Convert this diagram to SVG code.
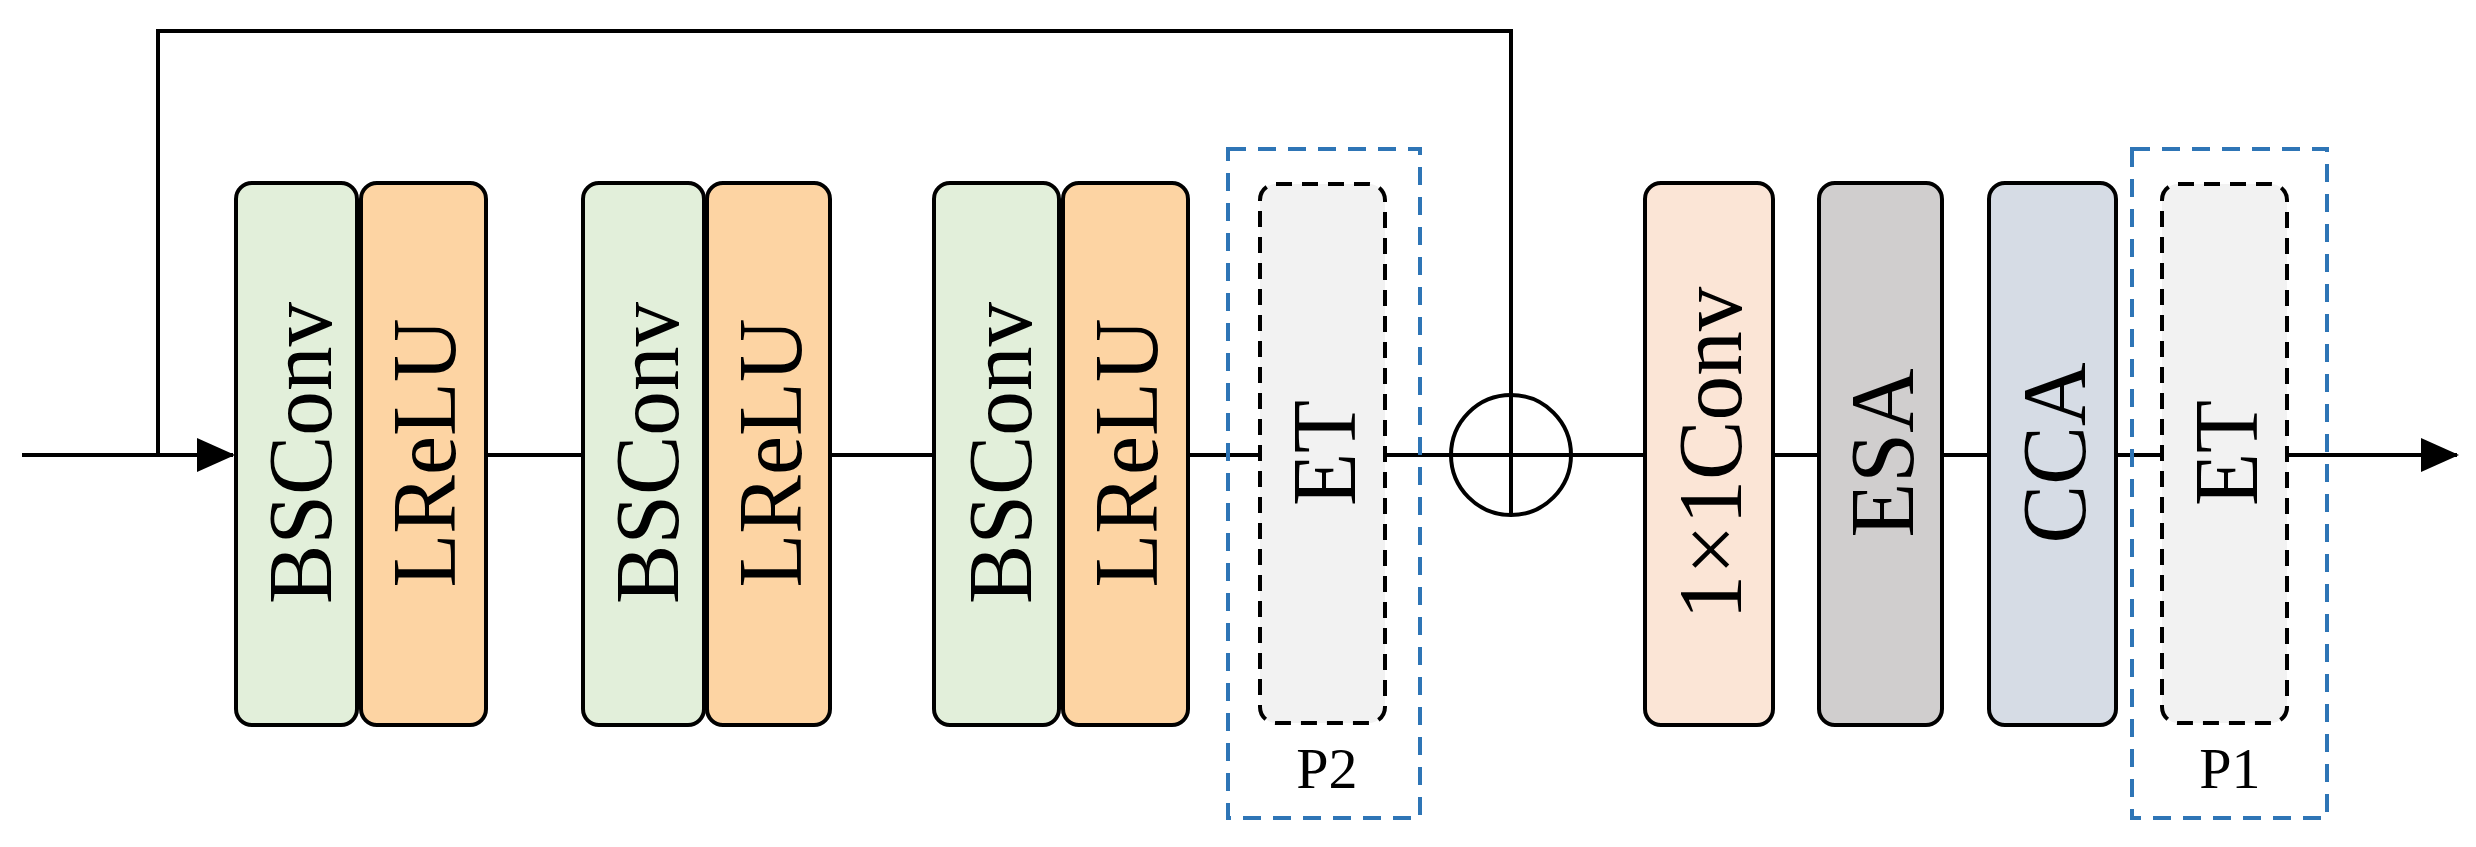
<svg xmlns="http://www.w3.org/2000/svg" width="2476" height="847" viewBox="0 0 2476 847">
<style>
.b{stroke:#000;stroke-width:4}
.t{font-family:"Liberation Serif",serif;font-size:92px;text-anchor:middle;dominant-baseline:central}
.l{fill:none;stroke:#000;stroke-width:4}
.blue{fill:none;stroke:#2E75B6;stroke-width:4;stroke-dasharray:18 12}
.p{font-family:"Liberation Serif",serif;font-size:58px;text-anchor:middle}
</style>
<defs><marker id="a" markerWidth="40" markerHeight="40" refX="36" refY="17" orient="auto" markerUnits="userSpaceOnUse" viewBox="0 0 40 34"><path d="M0,0L38,17L0,34z"/></marker></defs>
<g id="connectors">
<path class="l" d="M22,455H233" marker-end="url(#a)"/>
<path class="l" d="M158,455V31H1511V395"/>
<path class="l" d="M486,455H583M830,455H934M1188,455H1260M1385,455H1451M1571,455H1645M1773,455H1819M1942,455H1989M2116,455H2162"/>
<path class="l" d="M2287,455H2457" marker-end="url(#a)"/>
</g>
<g id="bsconv1"><rect class="b" x="236" y="183" width="121" height="542" rx="16" fill="#E2EFDA"/><text class="t" transform="translate(300,453) rotate(-90)" textLength="302" lengthAdjust="spacingAndGlyphs">BSConv</text></g>
<g id="lrelu1"><rect class="b" x="361" y="183" width="125" height="542" rx="16" fill="#FDD4A3"/><text class="t" transform="translate(424,453) rotate(-90)" textLength="269" lengthAdjust="spacingAndGlyphs">LReLU</text></g>
<g id="bsconv2"><rect class="b" x="583" y="183" width="121" height="542" rx="16" fill="#E2EFDA"/><text class="t" transform="translate(647,453) rotate(-90)" textLength="302" lengthAdjust="spacingAndGlyphs">BSConv</text></g>
<g id="lrelu2"><rect class="b" x="707" y="183" width="123" height="542" rx="16" fill="#FDD4A3"/><text class="t" transform="translate(770,453) rotate(-90)" textLength="269" lengthAdjust="spacingAndGlyphs">LReLU</text></g>
<g id="bsconv3"><rect class="b" x="934" y="183" width="125" height="542" rx="16" fill="#E2EFDA"/><text class="t" transform="translate(1000,453) rotate(-90)" textLength="302" lengthAdjust="spacingAndGlyphs">BSConv</text></g>
<g id="lrelu3"><rect class="b" x="1063" y="183" width="125" height="542" rx="16" fill="#FDD4A3"/><text class="t" transform="translate(1126,453) rotate(-90)" textLength="269" lengthAdjust="spacingAndGlyphs">LReLU</text></g>
<g id="p2"><rect class="blue" x="1228" y="149" width="192" height="669"/><rect x="1260" y="184" width="125" height="539" rx="16" fill="#F2F2F2" stroke="#000" stroke-width="4" stroke-dasharray="16 10"/><text class="t" transform="translate(1324,453) rotate(-90)" textLength="106" lengthAdjust="spacingAndGlyphs">ET</text><text class="p" x="1327" y="788">P2</text></g>
<g id="add"><circle cx="1511" cy="455" r="60" fill="none" stroke="#000" stroke-width="4"/><path class="l" d="M1451,455H1571M1511,395V515"/></g>
<g id="conv1x1"><rect class="b" x="1645" y="183" width="128" height="542" rx="16" fill="#FBE5D6"/><text class="t" transform="translate(1710,453) rotate(-90)" textLength="333" lengthAdjust="spacingAndGlyphs">1×1Conv</text></g>
<g id="esa"><rect class="b" x="1819" y="183" width="123" height="542" rx="16" fill="#D0CECE"/><text class="t" transform="translate(1882,453) rotate(-90)" textLength="169" lengthAdjust="spacingAndGlyphs">ESA</text></g>
<g id="cca"><rect class="b" x="1989" y="183" width="127" height="542" rx="16" fill="#D6DCE5"/><text class="t" transform="translate(2054,453) rotate(-90)" textLength="181" lengthAdjust="spacingAndGlyphs">CCA</text></g>
<g id="p1"><rect class="blue" x="2132" y="149" width="195" height="669"/><rect x="2162" y="184" width="125" height="539" rx="16" fill="#F2F2F2" stroke="#000" stroke-width="4" stroke-dasharray="16 10"/><text class="t" transform="translate(2226,453) rotate(-90)" textLength="106" lengthAdjust="spacingAndGlyphs">ET</text><text class="p" x="2230" y="788">P1</text></g>
</svg>
